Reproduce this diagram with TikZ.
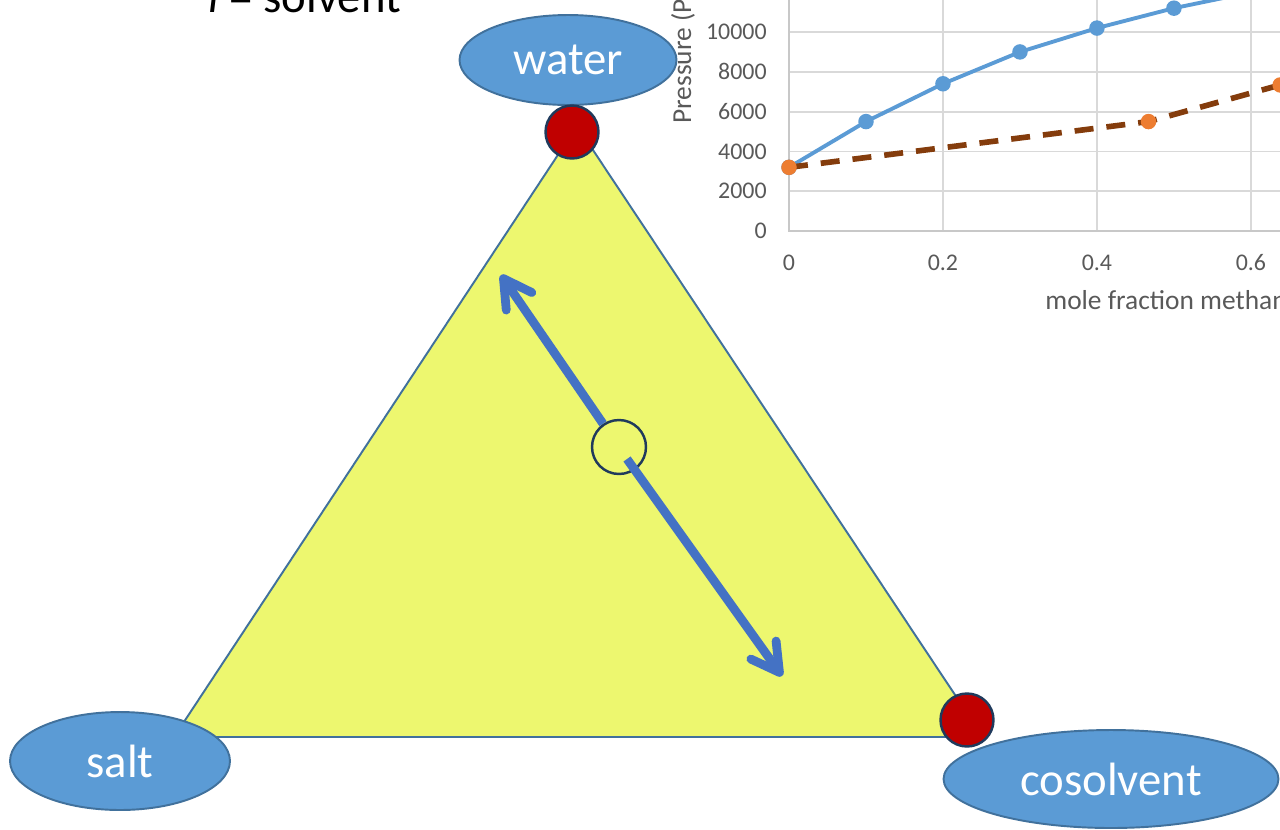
\documentclass[tikz,border=0pt]{standalone}
\usepackage{fontspec}
\setmainfont{Carlito}
\usetikzlibrary{arrows.meta,shapes.geometric}
\definecolor{bubble}{HTML}{5B9BD5}
\definecolor{bubbleline}{HTML}{41719C}
\definecolor{face}{HTML}{EDF76F}
\definecolor{knob}{HTML}{C00000}
\definecolor{navy}{HTML}{203A5C}
\definecolor{shiftc}{HTML}{4472C4}
\definecolor{gridc}{HTML}{D9D9D9}
\definecolor{axisc}{HTML}{C8C8C8}
\definecolor{tickc}{HTML}{595959}
\definecolor{seriesA}{HTML}{5B9BD5}
\definecolor{seriesB}{HTML}{ED7D31}
\definecolor{seriesBline}{HTML}{843C0C}
\tikzset{
  bubblenode/.style={ellipse, draw=bubbleline, line width=1.1pt, fill=bubble, text=white,
    font=\fontsize{26.6}{30}\selectfont, inner sep=0pt},
  pole/.style={circle, draw=navy, line width=1.4pt, fill=knob, minimum size=1.06cm, inner sep=0pt},
  mixring/.style={circle, draw=navy, line width=1.4pt, minimum size=1.08cm, inner sep=0pt},
  ticklab/.style={text=tickc, font=\fontsize{13.6}{16}\selectfont, inner sep=0pt},
  titlelab/.style={text=tickc, font=\fontsize{15.6}{18}\selectfont, inner sep=0pt},
  shiftarrow/.style={draw=shiftc, line width=5pt, -{Straight Barb[round,length=0.55cm,width=0.62cm]}}
}
\begin{document}
\begin{tikzpicture}[x=0.02cm,y=-0.02cm]
\useasboundingbox (0,0) rectangle (1280,829);
\clip (0,0) rectangle (1280,829);

\begin{scope}[shift={(789,231)},x=15.4cm,y=0.398cm]
\foreach \gx in {0.2,0.4,0.6,0.8}
  \draw[gridc,line width=1pt] (\gx,0) -- (\gx,12.5);
\foreach \gy in {2,4,...,12}
  \draw[gridc,line width=1pt] (0,\gy) -- (0.8,\gy);
\draw[axisc,line width=1pt] (0,12.5) -- (0,0) -- (0.8,0);
\foreach \gy/\lab in {0/0,2/2000,4/4000,6/6000,8/8000,10/10000}
  \node[ticklab,anchor=east,xshift=-0.44cm] at (0,\gy) {\lab};
\foreach \gx in {0,0.2,0.4,0.6}
  \node[ticklab,yshift=-0.64cm] at (\gx,0) {\gx};
\draw[seriesA,line width=2.2pt,line join=round] plot coordinates {(0,3.2) (0.1,5.5) (0.2,7.4) (0.3,9.0) (0.4,10.2) (0.5,11.2) (0.6,12.0)};
\foreach \px/\py in {0/3.2,0.1/5.5,0.2/7.4,0.3/9.0,0.4/10.2,0.5/11.2,0.6/12.0}
  \fill[seriesA] (\px,\py) circle (0.155cm);
\draw[seriesBline,line width=3.2pt,dash pattern=on 0.38cm off 0.26cm] plot coordinates {(0,3.2) (0.467,5.5) (0.638,7.34)};
\foreach \px/\py in {0/3.2,0.467/5.5,0.638/7.34}
  \fill[seriesB] (\px,\py) circle (0.155cm);
\end{scope}
\node[titlelab,anchor=west] (xtitle) at (1045,300) {mole fraction methanol};
\node[titlelab,rotate=90,anchor=west] (ytitle) at (683,124) {Pressure (Pa)};

\node[anchor=base west,inner sep=0pt,font=\fontsize{26.6}{30}\selectfont] (legend) at (208,12) {\textit{i} = solvent};

\coordinate (apex) at (577,126);
\coordinate (lcorner) at (174,737);
\coordinate (rcorner) at (983,737);
\fill[face] (apex) -- (lcorner) -- (rcorner) -- cycle;
\draw[bubbleline,line width=1.1pt,line join=round] (apex) -- (lcorner) -- (rcorner) -- cycle;

\node[mixring] (mix) at (619,447) {};
\coordinate (uptip) at (501,275);
\coordinate (lowstart) at (627,459);
\coordinate (lowtip) at (782,676);
\draw[shiftarrow] (mix) -- (uptip);
\draw[shiftarrow] (lowstart) -- (lowtip);

\node[bubblenode,minimum width=4.34cm,minimum height=1.8cm] (water) at (568,60) {water};
\node[bubblenode,minimum width=4.4cm,minimum height=1.96cm] (salt) at (120,761) {salt};
\node[bubblenode,minimum width=6.7cm,minimum height=1.96cm] (cosolvent) at (1111,779) {cosolvent};

\node[pole] (wpole) at (572,132) {};
\node[pole] (cpole) at (967,720) {};
\end{tikzpicture}
\end{document}
